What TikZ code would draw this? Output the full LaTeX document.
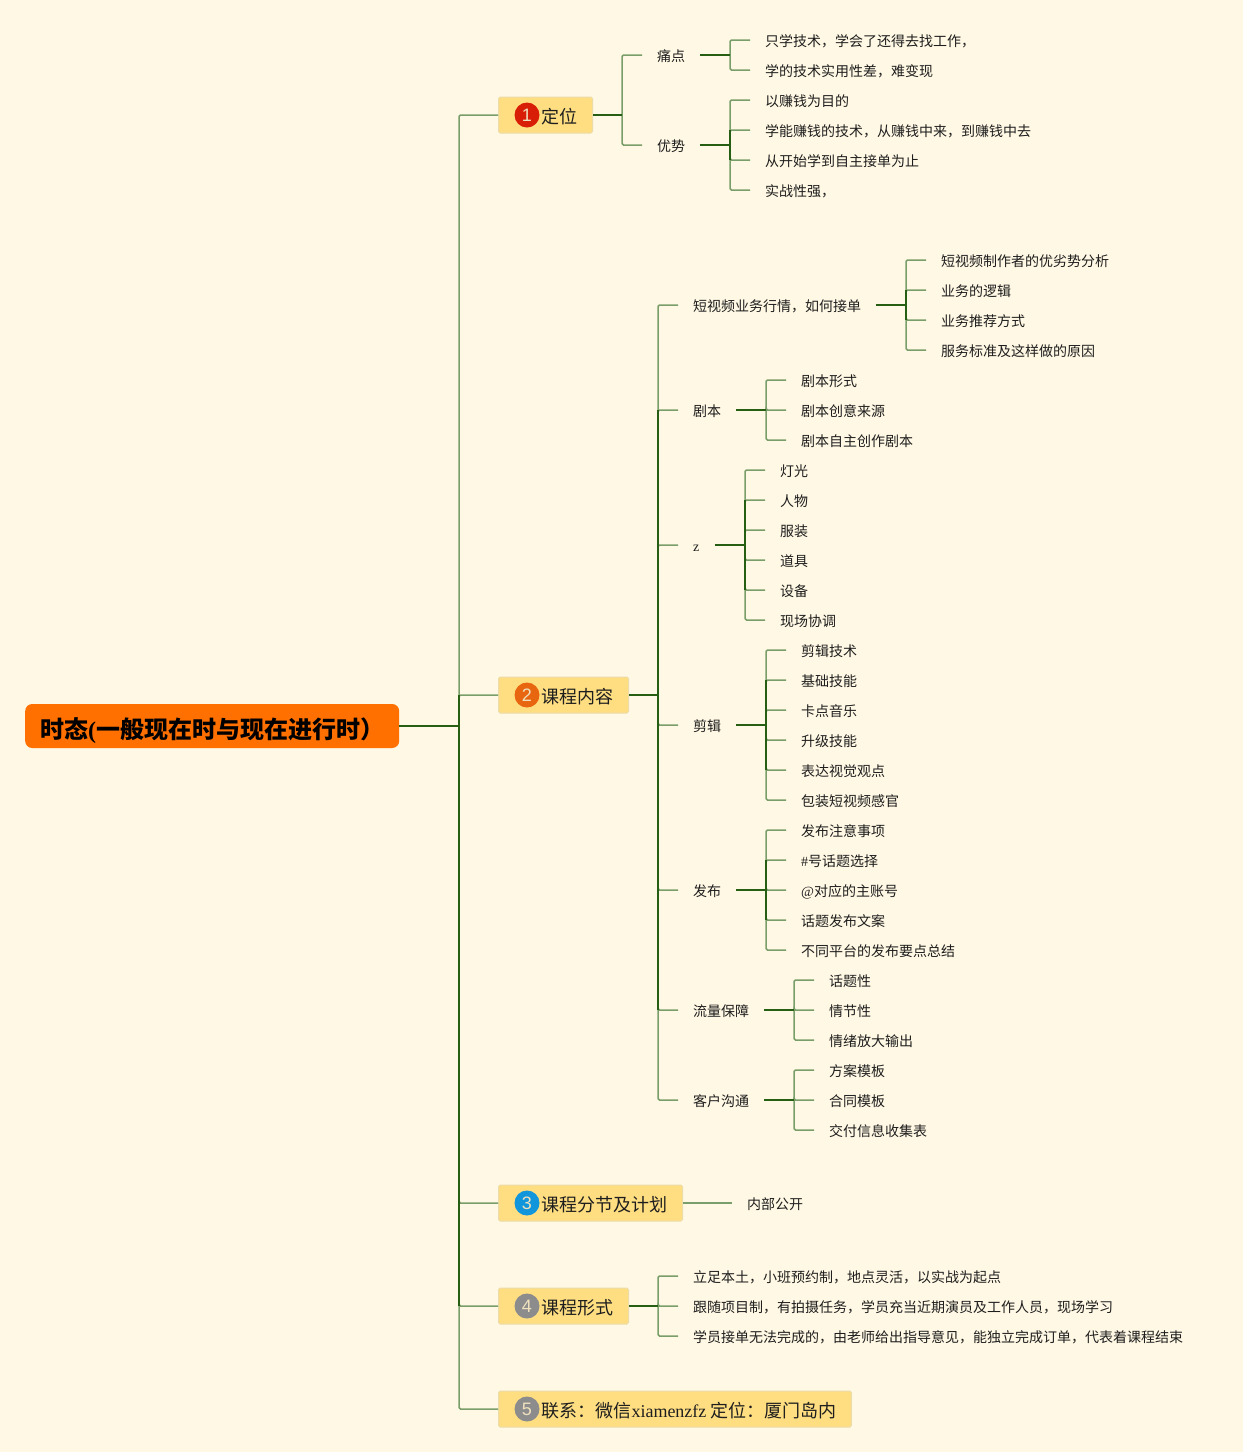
\documentclass[tikz,border=0pt]{standalone}
\usepackage{fontspec}
\setmainfont{Noto Sans CJK SC}
\newfontfamily\latinf{Liberation Serif}
\newfontfamily\digitf{Liberation Sans}
\usepackage{tikz}
\usetikzlibrary{positioning,calc}
\definecolor{paper}{RGB}{255,248,228}
\definecolor{rootfill}{RGB}{255,112,0}
\definecolor{boxfill}{RGB}{255,222,130}
\definecolor{boxline}{RGB}{236,220,170}
\definecolor{stemgreen}{RGB}{38,94,20}
\definecolor{twiggreen}{RGB}{122,158,106}
\definecolor{inkblack}{RGB}{30,30,30}
\definecolor{badgered}{RGB}{216,30,6}
\definecolor{badgeorange}{RGB}{232,102,15}
\definecolor{badgeblue}{RGB}{18,150,219}
\definecolor{badgegrey}{RGB}{140,140,140}
\definecolor{digitcream}{RGB}{240,225,190}
\tikzset{
  rootbox/.style={rectangle, fill=rootfill, rounded corners=7pt, anchor=west, inner xsep=15pt, minimum height=44pt, text height=27pt, text depth=3pt, font=\fontsize{24}{28}\selectfont\bfseries, text=black},
  topicbox/.style={rectangle, draw=boxline, fill=boxfill, line width=1pt, rounded corners=1.5pt, anchor=west, inner xsep=15pt, minimum height=36pt, text height=19pt, text depth=2pt, font=\fontsize{18}{22}\selectfont, text=inkblack},
  badge/.style={circle, fill=#1, minimum size=25pt, inner sep=0pt, font=\digitf\fontsize{18}{20}\selectfont, text=digitcream},
  leaf/.style={anchor=west, inner xsep=15pt, inner ysep=0pt, text height=14pt, text depth=2pt, font=\fontsize{14}{16}\selectfont, text=inkblack},
  twig/.style={draw=twiggreen, line width=1.5pt, rounded corners=1.5pt},
  stem/.style={draw=stemgreen, line width=1.8pt}
}
\begin{document}
\begin{tikzpicture}[x=1pt,y=-1pt]
  \fill[paper] (0,0) rectangle (1243,1452);
  \useasboundingbox (0,0) rectangle (1243,1452);
  % root and main topics
  \node[rootbox] (root) at (25,726) {时态{\latinf\bfseries (}一般现在时与现在进行时）};
  \node[topicbox] (place) at (498,115) {\hspace*{28pt}定位};
  \node[topicbox] (course) at (498,695) {\hspace*{28pt}课程内容};
  \node[topicbox] (plan) at (498,1203) {\hspace*{28pt}课程分节及计划};
  \node[topicbox] (form) at (498,1306) {\hspace*{28pt}课程形式};
  \node[topicbox] (contact) at (498,1409) {\hspace*{28pt}联系：微信{\latinf xiamenzfz} 定位：厦门岛内};
  \node[badge=badgered, xshift=29pt] (badgeone) at (place.west) {1};
  \node[badge=badgeorange, xshift=29pt] (badgetwo) at (course.west) {2};
  \node[badge=badgeblue, xshift=29pt] (badgethree) at (plan.west) {3};
  \node[badge=badgegrey, xshift=29pt] (badgefour) at (form.west) {4};
  \node[badge=badgegrey, xshift=29pt] (badgefive) at (contact.west) {5};
  % first topic
  \node[leaf] (pain) at (642,55) {痛点};
  \node[leaf] (edge) at (642,145) {优势};
  \node[leaf] (paina) at (750,40) {只学技术，学会了还得去找工作，};
  \node[leaf] (painb) at (750,70) {学的技术实用性差，难变现};
  \node[leaf] (edgea) at (750,100) {以赚钱为目的};
  \node[leaf] (edgeb) at (750,130) {学能赚钱的技术，从赚钱中来，到赚钱中去};
  \node[leaf] (edgec) at (750,160) {从开始学到自主接单为止};
  \node[leaf] (edged) at (750,190) {实战性强，};
  % second topic
  \node[leaf] (market) at (678,305) {短视频业务行情，如何接单};
  \node[leaf] (marketa) at (926,260) {短视频制作者的优劣势分析};
  \node[leaf] (marketb) at (926,290) {业务的逻辑};
  \node[leaf] (marketc) at (926,320) {业务推荐方式};
  \node[leaf] (marketd) at (926,350) {服务标准及这样做的原因};
  \node[leaf] (script) at (678,410) {剧本};
  \node[leaf] (scripta) at (786,380) {剧本形式};
  \node[leaf] (scriptb) at (786,410) {剧本创意来源};
  \node[leaf] (scriptc) at (786,440) {剧本自主创作剧本};
  \node[leaf] (shoot) at (678,545) {\latinf z};
  \node[leaf] (shoota) at (765,470) {灯光};
  \node[leaf] (shootb) at (765,500) {人物};
  \node[leaf] (shootc) at (765,530) {服装};
  \node[leaf] (shootd) at (765,560) {道具};
  \node[leaf] (shoote) at (765,590) {设备};
  \node[leaf] (shootf) at (765,620) {现场协调};
  \node[leaf] (cut) at (678,725) {剪辑};
  \node[leaf] (cuta) at (786,650) {剪辑技术};
  \node[leaf] (cutb) at (786,680) {基础技能};
  \node[leaf] (cutc) at (786,710) {卡点音乐};
  \node[leaf] (cutd) at (786,740) {升级技能};
  \node[leaf] (cute) at (786,770) {表达视觉观点};
  \node[leaf] (cutf) at (786,800) {包装短视频感官};
  \node[leaf] (post) at (678,890) {发布};
  \node[leaf] (posta) at (786,830) {发布注意事项};
  \node[leaf] (postb) at (786,860) {{\latinf\#}号话题选择};
  \node[leaf] (postc) at (786,890) {{\latinf @}对应的主账号};
  \node[leaf] (postd) at (786,920) {话题发布文案};
  \node[leaf] (poste) at (786,950) {不同平台的发布要点总结};
  \node[leaf] (flow) at (678,1010) {流量保障};
  \node[leaf] (flowa) at (814,980) {话题性};
  \node[leaf] (flowb) at (814,1010) {情节性};
  \node[leaf] (flowc) at (814,1040) {情绪放大输出};
  \node[leaf] (client) at (678,1100) {客户沟通};
  \node[leaf] (clienta) at (814,1070) {方案模板};
  \node[leaf] (clientb) at (814,1100) {合同模板};
  \node[leaf] (clientc) at (814,1130) {交付信息收集表};
  % remaining topics
  \node[leaf] (open) at (732,1203) {内部公开};
  \node[leaf] (forma) at (678,1276) {立足本土，小班预约制，地点灵活，以实战为起点};
  \node[leaf] (formb) at (678,1306) {跟随项目制，有拍摄任务，学员充当近期演员及工作人员，现场学习};
  \node[leaf] (formc) at (678,1336) {学员接单无法完成的，由老师给出指导意见，能独立完成订单，代表着课程结束};
  % fork points
  \coordinate (rootfork) at (459,726);
  \coordinate (placefork) at (622,115);
  \coordinate (painfork) at (730,55);
  \coordinate (edgefork) at (730,145);
  \coordinate (coursefork) at (658,695);
  \coordinate (marketfork) at (906,305);
  \coordinate (scriptfork) at (766,410);
  \coordinate (shootfork) at (745,545);
  \coordinate (cutfork) at (766,725);
  \coordinate (postfork) at (766,890);
  \coordinate (flowfork) at (794,1010);
  \coordinate (clientfork) at (794,1100);
  \coordinate (formfork) at (658,1306);
  % light twigs
  \foreach \kid in {place,course,plan,form,contact} \draw[twig] (\kid.west) -| (rootfork);
  \foreach \kid in {pain,edge} \draw[twig] (\kid.west) -| (placefork);
  \foreach \kid in {paina,painb} \draw[twig] (\kid.west) -| (painfork);
  \foreach \kid in {edgea,edgeb,edgec,edged} \draw[twig] (\kid.west) -| (edgefork);
  \foreach \kid in {market,script,shoot,cut,post,flow,client} \draw[twig] (\kid.west) -| (coursefork);
  \foreach \kid in {marketa,marketb,marketc,marketd} \draw[twig] (\kid.west) -| (marketfork);
  \foreach \kid in {scripta,scriptb,scriptc} \draw[twig] (\kid.west) -| (scriptfork);
  \foreach \kid in {shoota,shootb,shootc,shootd,shoote,shootf} \draw[twig] (\kid.west) -| (shootfork);
  \foreach \kid in {cuta,cutb,cutc,cutd,cute,cutf} \draw[twig] (\kid.west) -| (cutfork);
  \foreach \kid in {posta,postb,postc,postd,poste} \draw[twig] (\kid.west) -| (postfork);
  \foreach \kid in {flowa,flowb,flowc} \draw[twig] (\kid.west) -| (flowfork);
  \foreach \kid in {clienta,clientb,clientc} \draw[twig] (\kid.west) -| (clientfork);
  \foreach \kid in {forma,formb,formc} \draw[twig] (\kid.west) -| (formfork);
  \draw[twig] (plan.east) -- (open.west);
  % dark stems
  \draw[stem] (root.east) -- (rootfork);
  \draw[stem] (course.west -| rootfork) -- (form.west -| rootfork);
  \draw[stem] (place.east) -- (placefork);
  \draw[stem] (pain.east) -- (painfork);
  \draw[stem] (edge.east) -- (edgefork);
  \draw[stem] (edgeb.west -| edgefork) -- (edgec.west -| edgefork);
  \draw[stem] (course.east) -- (coursefork);
  \draw[stem] (script.west -| coursefork) -- (flow.west -| coursefork);
  \draw[stem] (market.east) -- (marketfork);
  \draw[stem] (marketb.west -| marketfork) -- (marketc.west -| marketfork);
  \draw[stem] (script.east) -- (scriptfork);
  \draw[stem] (shoot.east) -- (shootfork);
  \draw[stem] (shootb.west -| shootfork) -- (shoote.west -| shootfork);
  \draw[stem] (cut.east) -- (cutfork);
  \draw[stem] (cutb.west -| cutfork) -- (cute.west -| cutfork);
  \draw[stem] (post.east) -- (postfork);
  \draw[stem] (postb.west -| postfork) -- (postd.west -| postfork);
  \draw[stem] (flow.east) -- (flowfork);
  \draw[stem] (client.east) -- (clientfork);
  \draw[stem] (form.east) -- (formfork);
\end{tikzpicture}
\end{document}
